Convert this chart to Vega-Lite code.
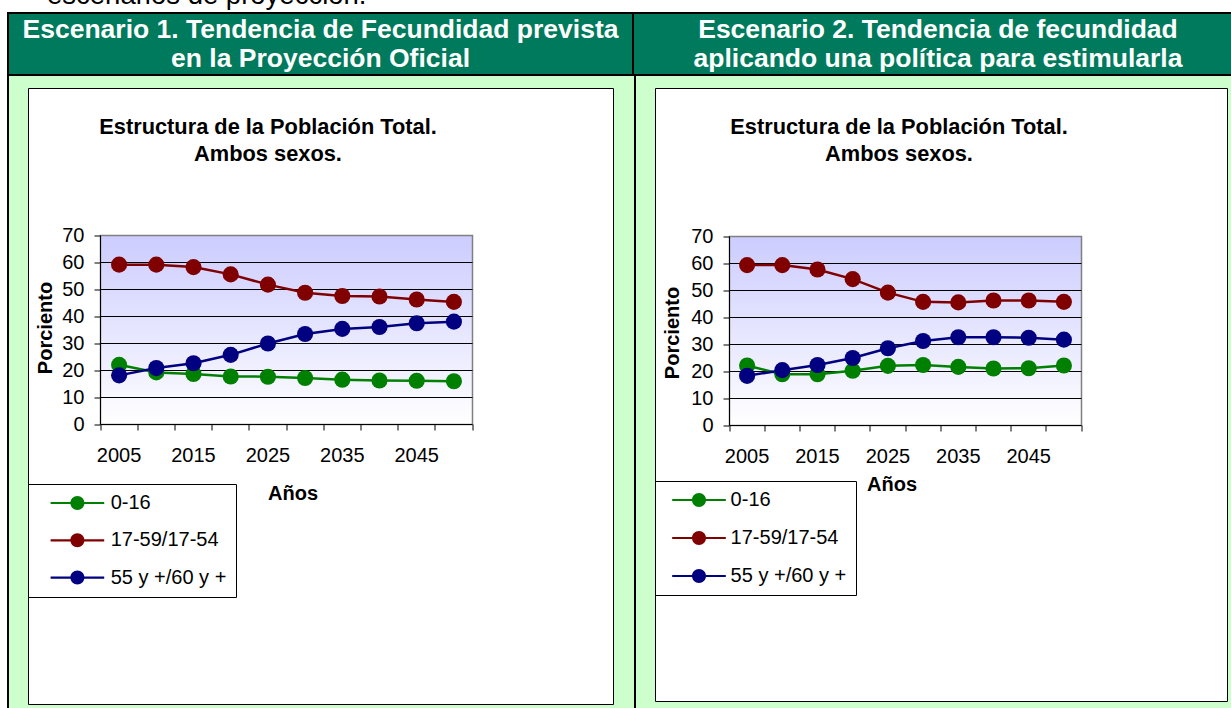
{
  "$schema": "https://vega.github.io/schema/vega-lite/v6.json",
  "background": "#CCFFCC",
  "padding": 0,
  "spacing": 0,
  "config": {
    "view": {"stroke": null},
    "font": "Liberation Sans",
    "axis": {"labelColor": "black", "titleColor": "black", "domainColor": "black", "tickColor": "black", "translate": 0}
  },
  "datasets": {
    "esc1": [
      {"year": 2005, "group": "0-16", "value": 22.1},
      {"year": 2010, "group": "0-16", "value": 19.3},
      {"year": 2015, "group": "0-16", "value": 18.7},
      {"year": 2020, "group": "0-16", "value": 17.8},
      {"year": 2025, "group": "0-16", "value": 17.7},
      {"year": 2030, "group": "0-16", "value": 17.2},
      {"year": 2035, "group": "0-16", "value": 16.6},
      {"year": 2040, "group": "0-16", "value": 16.3},
      {"year": 2045, "group": "0-16", "value": 16.2},
      {"year": 2050, "group": "0-16", "value": 16.0},
      {"year": 2005, "group": "17-59/17-54", "value": 59.2},
      {"year": 2010, "group": "17-59/17-54", "value": 59.2},
      {"year": 2015, "group": "17-59/17-54", "value": 58.3},
      {"year": 2020, "group": "17-59/17-54", "value": 55.6},
      {"year": 2025, "group": "17-59/17-54", "value": 51.8},
      {"year": 2030, "group": "17-59/17-54", "value": 48.8},
      {"year": 2035, "group": "17-59/17-54", "value": 47.6},
      {"year": 2040, "group": "17-59/17-54", "value": 47.4},
      {"year": 2045, "group": "17-59/17-54", "value": 46.3},
      {"year": 2050, "group": "17-59/17-54", "value": 45.4},
      {"year": 2005, "group": "55 y +/60 y +", "value": 18.2},
      {"year": 2010, "group": "55 y +/60 y +", "value": 20.9},
      {"year": 2015, "group": "55 y +/60 y +", "value": 22.7},
      {"year": 2020, "group": "55 y +/60 y +", "value": 25.8},
      {"year": 2025, "group": "55 y +/60 y +", "value": 30.0},
      {"year": 2030, "group": "55 y +/60 y +", "value": 33.5},
      {"year": 2035, "group": "55 y +/60 y +", "value": 35.4},
      {"year": 2040, "group": "55 y +/60 y +", "value": 36.1},
      {"year": 2045, "group": "55 y +/60 y +", "value": 37.5},
      {"year": 2050, "group": "55 y +/60 y +", "value": 38.1}
    ],
    "esc2": [
      {"year": 2005, "group": "0-16", "value": 22.2},
      {"year": 2010, "group": "0-16", "value": 19.0},
      {"year": 2015, "group": "0-16", "value": 19.0},
      {"year": 2020, "group": "0-16", "value": 20.3},
      {"year": 2025, "group": "0-16", "value": 22.1},
      {"year": 2030, "group": "0-16", "value": 22.4},
      {"year": 2035, "group": "0-16", "value": 21.7},
      {"year": 2040, "group": "0-16", "value": 21.1},
      {"year": 2045, "group": "0-16", "value": 21.2},
      {"year": 2050, "group": "0-16", "value": 22.2},
      {"year": 2005, "group": "17-59/17-54", "value": 59.4},
      {"year": 2010, "group": "17-59/17-54", "value": 59.4},
      {"year": 2015, "group": "17-59/17-54", "value": 57.8},
      {"year": 2020, "group": "17-59/17-54", "value": 54.2},
      {"year": 2025, "group": "17-59/17-54", "value": 49.2},
      {"year": 2030, "group": "17-59/17-54", "value": 45.8},
      {"year": 2035, "group": "17-59/17-54", "value": 45.6},
      {"year": 2040, "group": "17-59/17-54", "value": 46.3},
      {"year": 2045, "group": "17-59/17-54", "value": 46.3},
      {"year": 2050, "group": "17-59/17-54", "value": 45.8},
      {"year": 2005, "group": "55 y +/60 y +", "value": 18.4},
      {"year": 2010, "group": "55 y +/60 y +", "value": 20.5},
      {"year": 2015, "group": "55 y +/60 y +", "value": 22.4},
      {"year": 2020, "group": "55 y +/60 y +", "value": 25.0},
      {"year": 2025, "group": "55 y +/60 y +", "value": 28.6},
      {"year": 2030, "group": "55 y +/60 y +", "value": 31.3},
      {"year": 2035, "group": "55 y +/60 y +", "value": 32.7},
      {"year": 2040, "group": "55 y +/60 y +", "value": 32.7},
      {"year": 2045, "group": "55 y +/60 y +", "value": 32.5},
      {"year": 2050, "group": "55 y +/60 y +", "value": 31.8}
    ]
  },
  "vconcat": [
    {
      "width": 1231, "height": 12,
      "view": {"fill": "white"},
      "data": {"values": [{}]},
      "mark": {"type": "text", "text": "escenarios de proyección.", "fontSize": 27.5, "align": "left", "baseline": "alphabetic", "dx": -568.5, "dy": -2, "clip": true, "color": "black"}
    },
    {
      "hconcat": [
        {"width": 7, "height": 2, "view": {"fill": "white"}, "data": {"values": []}, "mark": {"type": "point", "opacity": 0}},
        {"width": 1224, "height": 2, "view": {"fill": "black"}, "data": {"values": []}, "mark": {"type": "point", "opacity": 0}}
      ],
      "spacing": 0
    },
    {
      "hconcat": [
        {"width": 7, "height": 60, "view": {"fill": "white"}, "data": {"values": []}, "mark": {"type": "point", "opacity": 0}},
        {"width": 2, "height": 60, "view": {"fill": "black"}, "data": {"values": []}, "mark": {"type": "point", "opacity": 0}},
        {
          "width": 623, "height": 60,
          "view": {"fill": "#007A5C"},
          "data": {"values": [{}]},
          "mark": {"type": "text", "text": ["Escenario 1. Tendencia de Fecundidad prevista", "en la Proyección Oficial"], "color": "white", "fontSize": 26.5, "fontWeight": "bold", "lineHeight": 29, "align": "center", "baseline": "middle", "dy": -14.5}
        },
        {"width": 2, "height": 60, "view": {"fill": "black"}, "data": {"values": []}, "mark": {"type": "point", "opacity": 0}},
        {
          "width": 597, "height": 60,
          "view": {"fill": "#007A5C"},
          "data": {"values": [{}]},
          "mark": {"type": "text", "text": ["Escenario 2. Tendencia de fecundidad", "aplicando una política para estimularla"], "color": "white", "fontSize": 26.5, "fontWeight": "bold", "lineHeight": 29, "align": "center", "baseline": "middle", "dx": 5.5, "dy": -14.5}
        }
      ],
      "spacing": 0
    },
    {
      "hconcat": [
        {"width": 7, "height": 2, "view": {"fill": "white"}, "data": {"values": []}, "mark": {"type": "point", "opacity": 0}},
        {"width": 1224, "height": 2, "view": {"fill": "black"}, "data": {"values": []}, "mark": {"type": "point", "opacity": 0}}
      ],
      "spacing": 0
    },
    {
      "hconcat": [
        {"width": 7, "height": 632, "view": {"fill": "white"}, "data": {"values": []}, "mark": {"type": "point", "opacity": 0}},
        {"width": 2, "height": 632, "view": {"fill": "black"}, "data": {"values": []}, "mark": {"type": "point", "opacity": 0}},
        {"width": 18, "height": 632, "data": {"values": []}, "mark": {"type": "point", "opacity": 0}},
        {
          "vconcat": [
            {"width": 585, "height": 11, "data": {"values": []}, "mark": {"type": "point", "opacity": 0}},
            {
              "width": 585, "height": 616,
              "view": {"fill": "white", "stroke": "black", "strokeWidth": 1},
              "data": {"name": "esc1"},
              "title": {"text": ["Estructura de la Población Total.", "Ambos sexos."], "anchor": "start", "frame": "group", "align": "center", "dx": 240, "offset": -78, "fontSize": 21.8, "fontWeight": "bold", "lineHeight": 27, "color": "black"},
              "layer": [
                {
                  "data": {"values": [{}]},
                  "mark": {"type": "rect", "color": {"gradient": "linear", "x1": 0, "y1": 0, "x2": 0, "y2": 1, "stops": [{"offset": 0, "color": "#CCCCFF"}, {"offset": 1, "color": "#FFFFFF"}]}, "stroke": "#808080", "strokeWidth": 1.5},
                  "encoding": {
                    "x": {"datum": 2002.5, "type": "quantitative", "scale": {"domain": [2002.5, 2052.5], "range": [72.5, 444.5], "nice": false, "zero": false},
                      "axis": {"orient": "bottom", "offset": -279.5, "values": [2002.5, 2007.5, 2012.5, 2017.5, 2022.5, 2027.5, 2032.5, 2037.5, 2042.5, 2047.5, 2052.5], "labels": false, "ticks": true, "tickSize": 6, "grid": false, "domain": true, "zindex": 1, "title": "Años", "titleFontSize": 20, "titleFontWeight": "bold", "titleX": 265, "titleY": 69, "titleAlign": "center", "titleBaseline": "middle"}},
                    "x2": {"datum": 2052.5},
                    "y": {"datum": 0, "type": "quantitative", "scale": {"domain": [0, 70], "range": [336.5, 147.5], "nice": false, "zero": false},
                      "axis": {"orient": "left", "offset": -72.5, "values": [0, 10, 20, 30, 40, 50, 60, 70], "grid": false, "tickSize": 6, "labelPadding": 10, "labelFontSize": 20, "zindex": 1, "title": "Porciento", "titleFontSize": 20, "titleFontWeight": "bold", "titleX": -54.5, "titleY": 240, "titleAngle": -90, "titleAlign": "center", "titleBaseline": "middle"}},
                    "y2": {"datum": 70}
                  }
                },
                {"data": {"values": [{}]}, "mark": {"type": "rule", "color": "black", "strokeWidth": 1}, "encoding": {"x": {"datum": 2002.5, "type": "quantitative", "axis": null}, "x2": {"datum": 2052.5}, "y": {"datum": 10, "type": "quantitative"}}},
                {"data": {"values": [{}]}, "mark": {"type": "rule", "color": "black", "strokeWidth": 1}, "encoding": {"x": {"datum": 2002.5, "type": "quantitative", "axis": null}, "x2": {"datum": 2052.5}, "y": {"datum": 20, "type": "quantitative"}}},
                {"data": {"values": [{}]}, "mark": {"type": "rule", "color": "black", "strokeWidth": 1}, "encoding": {"x": {"datum": 2002.5, "type": "quantitative", "axis": null}, "x2": {"datum": 2052.5}, "y": {"datum": 30, "type": "quantitative"}}},
                {"data": {"values": [{}]}, "mark": {"type": "rule", "color": "black", "strokeWidth": 1}, "encoding": {"x": {"datum": 2002.5, "type": "quantitative", "axis": null}, "x2": {"datum": 2052.5}, "y": {"datum": 40, "type": "quantitative"}}},
                {"data": {"values": [{}]}, "mark": {"type": "rule", "color": "black", "strokeWidth": 1}, "encoding": {"x": {"datum": 2002.5, "type": "quantitative", "axis": null}, "x2": {"datum": 2052.5}, "y": {"datum": 50, "type": "quantitative"}}},
                {"data": {"values": [{}]}, "mark": {"type": "rule", "color": "black", "strokeWidth": 1}, "encoding": {"x": {"datum": 2002.5, "type": "quantitative", "axis": null}, "x2": {"datum": 2052.5}, "y": {"datum": 60, "type": "quantitative"}}},
                {
                  "mark": {"type": "line", "strokeWidth": 2.5},
                  "encoding": {
                    "x": {"field": "year", "type": "quantitative", "axis": {"orient": "bottom", "offset": -279.5, "values": [2005, 2015, 2025, 2035, 2045], "format": "d", "ticks": false, "domain": false, "grid": false, "labelPadding": 21, "labelFontSize": 20, "labelFlush": false, "labelOverlap": false, "title": null}},
                    "y": {"field": "value", "type": "quantitative"},
                    "stroke": {"field": "group", "type": "nominal", "scale": {"range": ["#008000", "#800000", "#000080"]}, "legend": null}
                  }
                },
                {
                  "mark": {"type": "circle", "size": 260, "opacity": 1},
                  "encoding": {
                    "x": {"field": "year", "type": "quantitative", "axis": null},
                    "y": {"field": "value", "type": "quantitative"},
                    "color": {"field": "group", "type": "nominal", "scale": {"domain": ["0-16", "17-59/17-54", "55 y +/60 y +"], "range": ["#008000", "#800000", "#000080"]},
                      "legend": {"orient": "none", "legendX": 0, "legendY": 396, "title": null, "symbolType": "M-3.83,-0.16H3.83V0.16H-3.83Z M1,0A1,1,0,1,1,-1,0A1,1,0,1,1,1,0Z", "symbolSize": 196, "symbolStrokeWidth": 0, "symbolOffset": 30.4, "labelOffset": 23.3, "padding": 9, "rowPadding": 17.3, "fillColor": "white", "strokeColor": "black", "labelFontSize": 20, "labelColor": "black", "labelLimit": 400}}
                  }
                }
              ],
              "resolve": {"axis": {"x": "independent"}}
            }
          ],
          "spacing": 0,
          "resolve": {"scale": {"color": "independent", "stroke": "independent"}, "legend": {"color": "independent", "stroke": "independent"}}
        },
        {"width": 20, "height": 632, "data": {"values": []}, "mark": {"type": "point", "opacity": 0}},
        {"width": 2, "height": 632, "view": {"fill": "black"}, "data": {"values": []}, "mark": {"type": "point", "opacity": 0}},
        {"width": 18, "height": 632, "data": {"values": []}, "mark": {"type": "point", "opacity": 0}},
        {
          "vconcat": [
            {"width": 572, "height": 11, "data": {"values": []}, "mark": {"type": "point", "opacity": 0}},
            {
              "width": 572, "height": 613,
              "view": {"fill": "white", "stroke": "black", "strokeWidth": 1},
              "data": {"name": "esc2"},
              "title": {"text": ["Estructura de la Población Total.", "Ambos sexos."], "anchor": "start", "frame": "group", "align": "center", "dx": 244, "offset": -78, "fontSize": 21.8, "fontWeight": "bold", "lineHeight": 27, "color": "black"},
              "layer": [
                {
                  "data": {"values": [{}]},
                  "mark": {"type": "rect", "color": {"gradient": "linear", "x1": 0, "y1": 0, "x2": 0, "y2": 1, "stops": [{"offset": 0, "color": "#CCCCFF"}, {"offset": 1, "color": "#FFFFFF"}]}, "stroke": "#808080", "strokeWidth": 1.5},
                  "encoding": {
                    "x": {"datum": 2002.5, "type": "quantitative", "scale": {"domain": [2002.5, 2052.5], "range": [74.5, 426.5], "nice": false, "zero": false},
                      "axis": {"orient": "bottom", "offset": -275.5, "values": [2002.5, 2007.5, 2012.5, 2017.5, 2022.5, 2027.5, 2032.5, 2037.5, 2042.5, 2047.5, 2052.5], "labels": false, "ticks": true, "tickSize": 6, "grid": false, "domain": true, "zindex": 1, "title": "Años", "titleFontSize": 20, "titleFontWeight": "bold", "titleX": 237, "titleY": 59, "titleAlign": "center", "titleBaseline": "middle"}},
                    "x2": {"datum": 2052.5},
                    "y": {"datum": 0, "type": "quantitative", "scale": {"domain": [0, 70], "range": [337.5, 148.5], "nice": false, "zero": false},
                      "axis": {"orient": "left", "offset": -74.5, "values": [0, 10, 20, 30, 40, 50, 60, 70], "grid": false, "tickSize": 6, "labelPadding": 10, "labelFontSize": 20, "zindex": 1, "title": "Porciento", "titleFontSize": 20, "titleFontWeight": "bold", "titleX": -56.5, "titleY": 245, "titleAngle": -90, "titleAlign": "center", "titleBaseline": "middle"}},
                    "y2": {"datum": 70}
                  }
                },
                {"data": {"values": [{}]}, "mark": {"type": "rule", "color": "black", "strokeWidth": 1}, "encoding": {"x": {"datum": 2002.5, "type": "quantitative", "axis": null}, "x2": {"datum": 2052.5}, "y": {"datum": 10, "type": "quantitative"}}},
                {"data": {"values": [{}]}, "mark": {"type": "rule", "color": "black", "strokeWidth": 1}, "encoding": {"x": {"datum": 2002.5, "type": "quantitative", "axis": null}, "x2": {"datum": 2052.5}, "y": {"datum": 20, "type": "quantitative"}}},
                {"data": {"values": [{}]}, "mark": {"type": "rule", "color": "black", "strokeWidth": 1}, "encoding": {"x": {"datum": 2002.5, "type": "quantitative", "axis": null}, "x2": {"datum": 2052.5}, "y": {"datum": 30, "type": "quantitative"}}},
                {"data": {"values": [{}]}, "mark": {"type": "rule", "color": "black", "strokeWidth": 1}, "encoding": {"x": {"datum": 2002.5, "type": "quantitative", "axis": null}, "x2": {"datum": 2052.5}, "y": {"datum": 40, "type": "quantitative"}}},
                {"data": {"values": [{}]}, "mark": {"type": "rule", "color": "black", "strokeWidth": 1}, "encoding": {"x": {"datum": 2002.5, "type": "quantitative", "axis": null}, "x2": {"datum": 2052.5}, "y": {"datum": 50, "type": "quantitative"}}},
                {"data": {"values": [{}]}, "mark": {"type": "rule", "color": "black", "strokeWidth": 1}, "encoding": {"x": {"datum": 2002.5, "type": "quantitative", "axis": null}, "x2": {"datum": 2052.5}, "y": {"datum": 60, "type": "quantitative"}}},
                {
                  "mark": {"type": "line", "strokeWidth": 2.5},
                  "encoding": {
                    "x": {"field": "year", "type": "quantitative", "axis": {"orient": "bottom", "offset": -275.5, "values": [2005, 2015, 2025, 2035, 2045], "format": "d", "ticks": false, "domain": false, "grid": false, "labelPadding": 21, "labelFontSize": 20, "labelFlush": false, "labelOverlap": false, "title": null}},
                    "y": {"field": "value", "type": "quantitative"},
                    "stroke": {"field": "group", "type": "nominal", "scale": {"range": ["#008000", "#800000", "#000080"]}, "legend": null}
                  }
                },
                {
                  "mark": {"type": "circle", "size": 260, "opacity": 1},
                  "encoding": {
                    "x": {"field": "year", "type": "quantitative", "axis": null},
                    "y": {"field": "value", "type": "quantitative"},
                    "color": {"field": "group", "type": "nominal", "scale": {"domain": ["0-16", "17-59/17-54", "55 y +/60 y +"], "range": ["#008000", "#800000", "#000080"]},
                      "legend": {"orient": "none", "legendX": 0, "legendY": 393, "title": null, "symbolType": "M-3.83,-0.16H3.83V0.16H-3.83Z M1,0A1,1,0,1,1,-1,0A1,1,0,1,1,1,0Z", "symbolSize": 196, "symbolStrokeWidth": 0, "symbolOffset": 25, "labelOffset": 21.6, "padding": 9, "rowPadding": 18, "fillColor": "white", "strokeColor": "black", "labelFontSize": 20, "labelColor": "black", "labelLimit": 400}}
                  }
                }
              ],
              "resolve": {"axis": {"x": "independent"}}
            }
          ],
          "spacing": 0,
          "resolve": {"scale": {"color": "independent", "stroke": "independent"}, "legend": {"color": "independent", "stroke": "independent"}}
        }
      ],
      "spacing": 0,
      "resolve": {"scale": {"color": "independent", "stroke": "independent"}, "legend": {"color": "independent", "stroke": "independent"}}
    }
  ]
}
